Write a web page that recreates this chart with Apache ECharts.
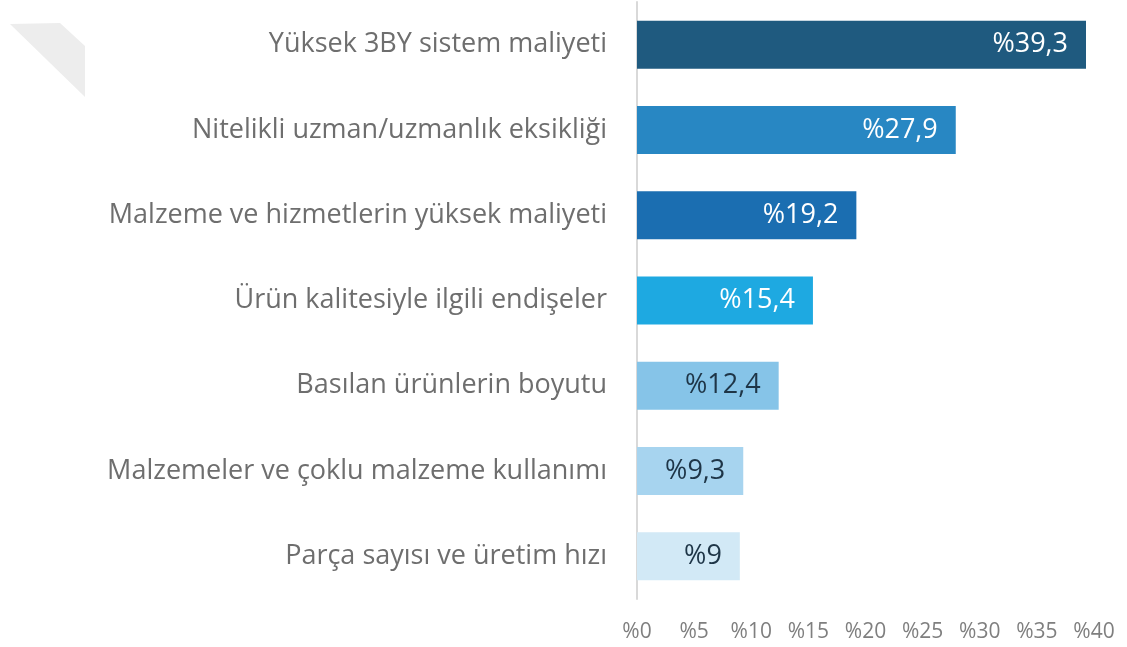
<!DOCTYPE html>
<html>
<head>
<meta charset="utf-8">
<script src="https://cdn.jsdelivr.net/npm/echarts@6/dist/echarts.min.js"></script>
<style>
  html, body { margin: 0; padding: 0; background: #fff; }
  #chart { width: 1127px; height: 647px; }
</style>
</head>
<body>
<div id="chart"></div>
<script>
// kategoriler (yukarıdan aşağıya)
const categories = [
  'Yüksek 3BY sistem maliyeti',
  'Nitelikli uzman/uzmanlık eksikliği',
  'Malzeme ve hizmetlerin yüksek maliyeti',
  'Ürün kalitesiyle ilgili endişeler',
  'Basılan ürünlerin boyutu',
  'Malzemeler ve çoklu malzeme kullanımı',
  'Parça sayısı ve üretim hızı'
]
const values = [39.3, 27.9, 19.2, 15.4, 12.4, 9.3, 9]
const barColors = ['#1f5a7f', '#2887c3', '#1b6eb1', '#1ea9e1', '#86c4e8', '#a7d4ef', '#d2e9f6']
const labelColors = ['#ffffff', '#ffffff', '#ffffff', '#ffffff', '#1e3547', '#1e3547', '#1e3547']

const chart = echarts.init(document.getElementById('chart'))

// yüzde biçimi: %39,3
function fmtPct(v) {
  return '%' + String(v).replace('.', ',')
}

const option = {
  animation: false,
  textStyle: { fontFamily: '"Open Sans", sans-serif' },
  grid: {
    left: 637,
    right: 33,
    top: 2,
    bottom: 48
  },
  graphic: [
    {
      type: 'polygon',
      shape: { points: [[10, 24], [60, 23], [85, 46], [85, 97]] },
      style: { fill: '#ededed' },
      silent: true
    }
  ],
  xAxis: {
    type: 'value',
    min: 0,
    max: 40,
    interval: 5,
    axisLine: { show: false },
    axisTick: { show: false },
    splitLine: { show: false },
    axisLabel: {
      margin: 23,
      fontSize: 21,
      color: '#7f7f7f',
      formatter: v => '%' + v
    }
  },
  yAxis: {
    type: 'category',
    inverse: true,
    data: categories,
    axisLine: { show: true, lineStyle: { color: '#d9d9d9', width: 2 } },
    axisTick: { show: false },
    axisLabel: {
      margin: 30,
      fontSize: 27,
      color: '#6e6e6e'
    }
  },
  series: [
    {
      type: 'bar',
      barWidth: 48,
      data: values.map((v, i) => ({
        value: v,
        itemStyle: { color: barColors[i] },
        label: { color: labelColors[i] }
      })),
      label: {
        show: true,
        position: 'insideRight',
        distance: 18,
        fontSize: 27,
        formatter: p => fmtPct(p.value)
      }
    }
  ]
}

chart.setOption(option)
window.addEventListener('resize', () => chart.resize())
</script>
</body>
</html>
